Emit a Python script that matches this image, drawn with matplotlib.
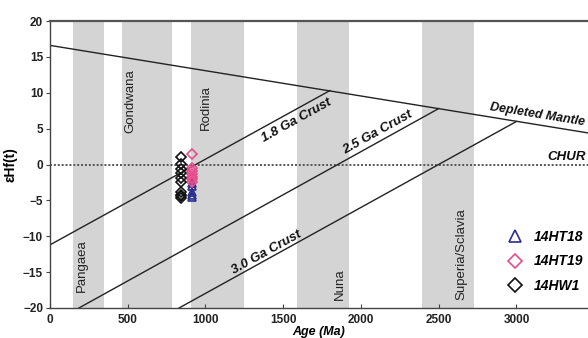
import numpy as np
import matplotlib
matplotlib.use('Agg')
import matplotlib.pyplot as plt

plt.rcParams['font.family'] = ['Liberation Sans', 'DejaVu Sans']

# supercontinent bands (Ma)
band_names = ['Pangaea', 'Gondwana', 'Rodinia', 'Nuna', 'Superia/Sclavia']
band_start = [150, 460, 905, 1590, 2395]
band_end = [350, 785, 1250, 1925, 2730]
band_label_x = [207, 514, 1003, 1865, 2643]
band_label_y = [-17.8, 4.4, 4.8, -18.9, -18.9]

# evolution lines: (age, eHf) end points
dm_age = [0, 3460]
dm_ehf = [16.6, 4.4]
crust_names = ['1.8 Ga Crust', '2.5 Ga Crust', '3.0 Ga Crust']
crust_age = [[0, 1800], [186, 2500], [830, 3000]]
crust_ehf = [[-11.2, 10.3], [-20, 7.8], [-20, 6.0]]

# zircon data
ht18_age = [913, 913, 913, 913, 913]
ht18_ehf = [-2.6, -3.0, -3.8, -4.2, -4.5]
ht19_age = [911, 911, 911, 911, 911, 911, 911]
ht19_ehf = [1.5, -0.5, -0.9, -1.3, -1.7, -2.0, -2.4]
hw1_age = [840, 840, 840, 840, 840, 840, 840, 840, 840, 840]
hw1_ehf = [1.1, 0.1, -0.6, -1.2, -1.9, -2.5, -3.9, -4.2, -4.4, -4.6]

fig = plt.figure(figsize=(5.88, 3.38), dpi=100)
ax = fig.add_axes([50/588, 1 - 308/338, 1 - 50/588, (308 - 21)/338])

for s, e in zip(band_start, band_end):
    ax.axvspan(s, e, color='#d4d4d4', lw=0, zorder=0)
for name, x, y in zip(band_names, band_label_x, band_label_y):
    ax.text(x, y, name, rotation=90, ha='center', va='bottom', fontsize=9.5, color='#222222', zorder=2)

ax.axhline(0, color='#555555', lw=1.4, ls=(0, (1, 1)), zorder=1)
ax.plot(dm_age, dm_ehf, color='#222222', lw=1.0, zorder=1)
for a, e in zip(crust_age, crust_ehf):
    ax.plot(a, e, color='#222222', lw=1.0, zorder=1)

lab_kw = dict(fontsize=9.5, fontweight='bold', fontstyle='italic', color='#111111',
              ha='center', va='center', rotation_mode='anchor', zorder=3)
ax.text(1588, 6.2, crust_names[0], rotation=29, **lab_kw)
ax.text(2109, 4.4, crust_names[1], rotation=29, **lab_kw)
ax.text(1395, -12.2, crust_names[2], rotation=29, **lab_kw)
lab_kw['fontsize'] = 9
ax.text(3135, 7.0, 'Depleted Mantle', rotation=-9.2, **lab_kw)
ax.text(3447, 1.1, 'CHUR', fontsize=9.5, fontweight='bold', fontstyle='italic',
        color='#111111', ha='right', va='center')

ax.plot(ht18_age, ht18_ehf, '^', ms=6, mfc='none', mec='#2b2f8f', mew=1.2, ls='none', label='14HT18', zorder=4)
ax.plot(ht19_age, ht19_ehf, 'D', ms=5, mfc='none', mec='#e84c8a', mew=1.2, ls='none', label='14HT19', zorder=4)
ax.plot(hw1_age, hw1_ehf, 'D', ms=5, mfc='none', mec='#111111', mew=1.2, ls='none', label='14HW1', zorder=4)

leg = ax.legend(loc='upper left', bbox_to_anchor=(500/588, 1 - 223/338), bbox_transform=fig.transFigure,
                frameon=False, numpoints=1, handlelength=1.2, handletextpad=0.7, labelspacing=0.75,
                borderpad=0, markerscale=1.4,
                prop=dict(family='Liberation Sans', weight='bold', style='italic', size=10))

ax.set_xlim(0, 3460)
ax.set_ylim(-20, 20)
ax.set_xticks(np.arange(0, 3001, 500))
ax.set_yticks(np.arange(-20, 21, 5))
ax.tick_params(axis='x', direction='in', length=3, labelsize=8.5, pad=4, color='#444444')
ax.tick_params(axis='y', direction='out', length=3, labelsize=8.5, pad=2, color='#444444')
for lbl in ax.get_xticklabels() + ax.get_yticklabels():
    lbl.set_fontweight('bold')
    lbl.set_color('#222222')

ax.spines['right'].set_visible(False)
for side in ['left', 'bottom']:
    ax.spines[side].set_color('#444444')
    ax.spines[side].set_linewidth(1.0)
ax.spines['top'].set_color('#555555')
ax.spines['top'].set_linewidth(1.6)

ax.set_xlabel('Age (Ma)', fontsize=9, fontweight='bold', fontstyle='italic', labelpad=0)
ax.set_ylabel('εHf(t)', fontsize=10, fontweight='bold', labelpad=4)

fig.savefig('out.png', dpi=100)
